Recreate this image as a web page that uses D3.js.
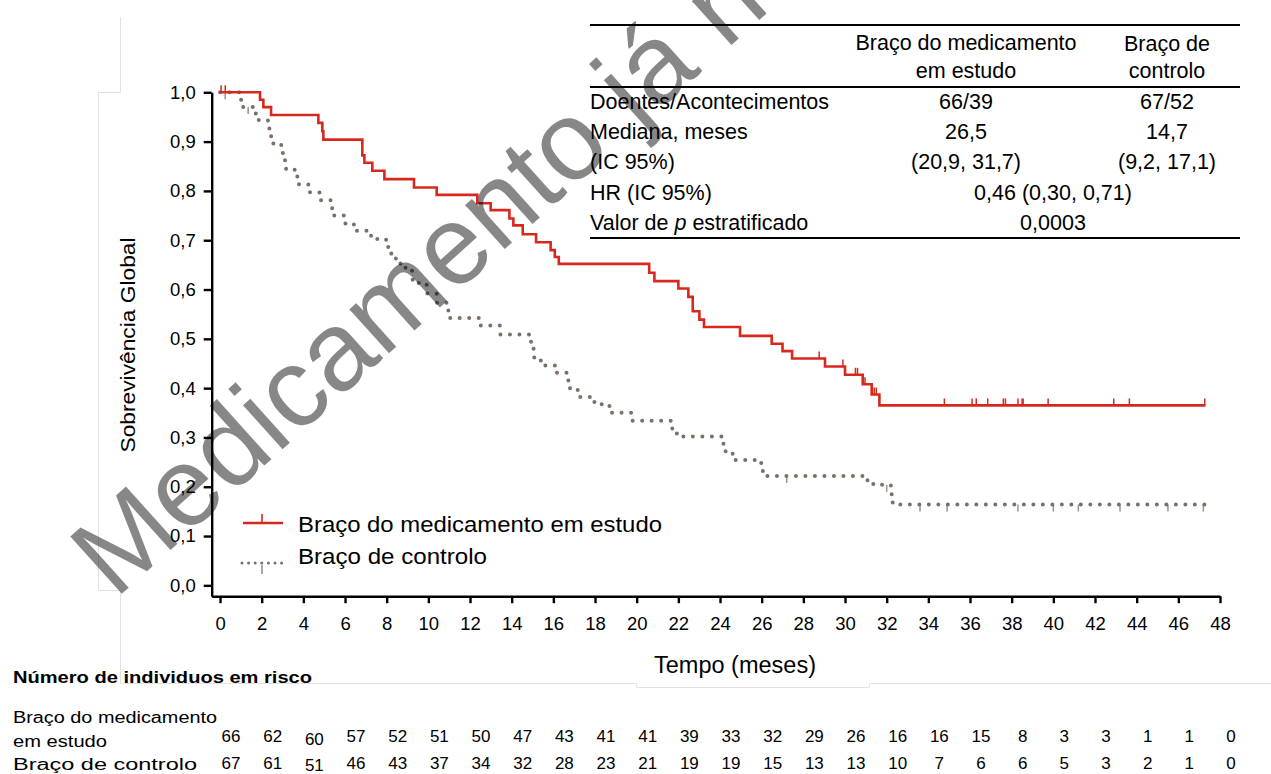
<!DOCTYPE html>
<html>
<head>
<meta charset="utf-8">
<script src="https://d3js.org/d3.v7.min.js"></script>
<style>
    body { margin: 0; background: #fff; }
    text { font-family: "Liberation Sans", Arial, sans-serif; fill: #000; }
</style>
</head>
<body>
<script>
    var W = 1271, H = 774;

    // braço do medicamento: tempo de cada degrau (meses) e sobrevivência depois dele
    var drugTimes = [0, 1.92, 2.08, 2.45, 4.72, 4.91, 4.96, 6.83, 6.93, 7.31, 7.89, 9.31, 10.40, 12.35, 12.99,
        13.89, 14.08, 14.53, 15.17, 15.87, 16.07, 16.26, 20.60, 20.85, 22.00, 22.48, 22.69, 23.01, 23.23,
        24.96, 26.48, 27.00, 27.46, 29.04, 30.00, 30.85, 31.28, 31.65];
    var drugSurv = [1.000, 0.985, 0.970, 0.954, 0.938, 0.921, 0.904, 0.872, 0.857, 0.841, 0.824, 0.807, 0.792,
        0.775, 0.761, 0.744, 0.730, 0.712, 0.696, 0.680, 0.666, 0.652, 0.634, 0.617, 0.602, 0.585, 0.556,
        0.539, 0.524, 0.506, 0.490, 0.475, 0.460, 0.444, 0.427, 0.408, 0.387, 0.365];
    var drugCensored = [0.05, 0.25, 28.76, 29.9, 30.5, 30.6, 30.96, 31.4, 31.5, 34.77, 36.1, 36.3, 36.85,
        37.6, 37.7, 38.3, 38.5, 38.55, 39.75, 42.9, 43.65, 47.27];
    var drugEnd = 47.3;

    // braço de controlo
    var ctrlTimes = [0, 0.95, 1.10, 1.60, 1.86, 2.37, 2.45, 2.56, 2.99, 3.12, 3.17, 3.71, 3.79, 4.32, 4.85,
        5.36, 5.47, 6.02, 6.56, 7.25, 7.55, 8.05, 8.19, 8.40, 8.64, 8.83, 9.07, 9.23, 9.52, 9.92, 10.40,
        10.96, 11.04, 12.48, 13.44, 14.88, 15.04, 15.05, 15.36, 15.60, 16.16, 16.72, 16.80, 16.96, 17.28,
        17.92, 18.32, 18.80, 19.80, 21.71, 21.92, 22.20, 24.13, 24.24, 24.48, 24.72, 25.92, 26.02, 26.24,
        31.04, 31.36, 32.20, 32.29];
    var ctrlSurv = [1.000, 0.985, 0.970, 0.957, 0.943, 0.926, 0.911, 0.893, 0.877, 0.862, 0.843, 0.828,
        0.813, 0.797, 0.781, 0.765, 0.750, 0.732, 0.719, 0.709, 0.701, 0.686, 0.673, 0.663, 0.653, 0.644,
        0.638, 0.620, 0.613, 0.592, 0.573, 0.556, 0.542, 0.527, 0.509, 0.494, 0.480, 0.462, 0.456, 0.446,
        0.431, 0.412, 0.399, 0.396, 0.382, 0.372, 0.364, 0.350, 0.334, 0.318, 0.308, 0.302, 0.287, 0.272,
        0.267, 0.254, 0.248, 0.232, 0.222, 0.213, 0.204, 0.185, 0.164];
    var ctrlCensored = [0.25, 1.35, 27.2, 32.0, 33.6, 34.9, 38.3, 40.0, 41.2, 43.2, 45.5, 47.2];
    var ctrlEnd = 47.3;

    var xTicks = d3.range(0, 49, 2);
    var yTicks = [0, 0.1, 0.2, 0.3, 0.4, 0.5, 0.6, 0.7, 0.8, 0.9, 1.0];

    var riskDrug = [66, 62, 60, 57, 52, 51, 50, 47, 43, 41, 41, 39, 33, 32, 29, 26, 16, 16, 15, 8, 3, 3, 1, 1, 0];
    var riskCtrl = [67, 61, 51, 46, 43, 37, 34, 32, 28, 23, 21, 19, 19, 15, 13, 13, 10, 7, 6, 6, 5, 3, 2, 1, 0];

    var seriesNames = ["Braço do medicamento em estudo", "Braço de controlo"];
    var tableRows = ["Doentes/Acontecimentos", "Mediana, meses", "(IC 95%)", "HR (IC 95%)"];
    var drugStats = ["66/39", "26,5", "(20,9, 31,7)"];
    var ctrlStats = ["67/52", "14,7", "(9,2, 17,1)"];
    var hrValue = "0,46 (0,30, 0,71)";
    var pValue = "0,0003";

    var red = "#d8281e", grey = "#7a7068";

    var svg = d3.select("body").append("svg").attr("width", W).attr("height", H);

    var x = d3.scaleLinear().domain([-0.4, 48]).range([211.7, 1220]);
    var y = d3.scaleLinear().domain([-0.022, 1]).range([596.2, 92.3]);
    var fmt = function (d) { return d.toFixed(1).replace(".", ","); };

    // faint frame left over from the slide
    svg.append("path")
        .attr("d", "M120.5,17V92.5H98.5V590.5H120.5V683.5H636.5V687.5H869.5V683.5H1271")
        .attr("fill", "none").attr("stroke", "#e2e2e2").attr("stroke-width", 1);

    // axes
    var xAxis = svg.append("g").attr("transform", "translate(0," + y(-0.022) + ")")
        .call(d3.axisBottom(x).tickValues(xTicks).tickSize(7).tickSizeOuter(0).tickPadding(14));
    var yAxis = svg.append("g").attr("transform", "translate(" + x(-0.4) + ",0)")
        .call(d3.axisLeft(y).tickValues(yTicks).tickFormat(fmt).tickSize(8).tickSizeOuter(0).tickPadding(8));
    [xAxis, yAxis].forEach(function (g) {
        g.selectAll("path, line").attr("stroke", "#000").attr("stroke-width", 2.4);
        g.selectAll("text").attr("font-size", 18.5).attr("fill", "#000")
            .style("font-family", "'Liberation Sans', Arial, sans-serif");
    });

    svg.append("text").attr("transform", "translate(135,345) rotate(-90)")
        .attr("text-anchor", "middle").attr("font-size", 21)
        .attr("textLength", 215).attr("lengthAdjust", "spacingAndGlyphs")
        .text("Sobrevivência Global");
    svg.append("text").attr("x", 735).attr("y", 673).attr("text-anchor", "middle")
        .attr("font-size", 23.5).text("Tempo (meses)");

    function stepData(times, surv, end) {
        var pts = times.map(function (t, i) { return [t, surv[i]]; });
        pts.push([end, surv[surv.length - 1]]);
        return pts;
    }
    function survAt(times, surv, t) {
        return surv[Math.max(0, d3.bisectRight(times, t) - 1)];
    }
    var stepLine = d3.line()
        .x(function (d) { return x(d[0]); })
        .y(function (d) { return y(d[1]); })
        .curve(d3.curveStepAfter);

    // controlo: dotted
    svg.append("g").selectAll("line").data(ctrlCensored).join("line")
        .attr("x1", function (d) { return x(d); }).attr("x2", function (d) { return x(d); })
        .attr("y1", function (d) { return y(survAt(ctrlTimes, ctrlSurv, d)); })
        .attr("y2", function (d) { return y(survAt(ctrlTimes, ctrlSurv, d)) + 7; })
        .attr("stroke", "#9c928a").attr("stroke-width", 1.5);
    svg.append("path").attr("d", stepLine(stepData(ctrlTimes, ctrlSurv, ctrlEnd)))
        .attr("fill", "none").attr("stroke", grey).attr("stroke-width", 4)
        .attr("stroke-linecap", "round").attr("stroke-dasharray", "0,9.5");

    // medicamento: solid red
    svg.append("path").attr("d", stepLine(stepData(drugTimes, drugSurv, drugEnd)))
        .attr("fill", "none").attr("stroke", red).attr("stroke-width", 2.6);
    svg.append("g").selectAll("line").data(drugCensored).join("line")
        .attr("x1", function (d) { return x(d); }).attr("x2", function (d) { return x(d); })
        .attr("y1", function (d) { return y(survAt(drugTimes, drugSurv, d)); })
        .attr("y2", function (d) { return y(survAt(drugTimes, drugSurv, d)) - 7; })
        .attr("stroke", red).attr("stroke-width", 1.5);

    // legend
    var lg = svg.append("g");
    lg.append("line").attr("x1", 243).attr("x2", 283).attr("y1", 523).attr("y2", 523)
        .attr("stroke", red).attr("stroke-width", 2.6);
    lg.append("line").attr("x1", 262).attr("x2", 262).attr("y1", 523).attr("y2", 514)
        .attr("stroke", red).attr("stroke-width", 1.6);
    lg.append("line").attr("x1", 242).attr("x2", 283).attr("y1", 563).attr("y2", 563)
        .attr("stroke", grey).attr("stroke-width", 3).attr("stroke-linecap", "round")
        .attr("stroke-dasharray", "0,6.6");
    lg.append("line").attr("x1", 262).attr("x2", 262).attr("y1", 565).attr("y2", 574)
        .attr("stroke", "#9c928a").attr("stroke-width", 1.6);
    lg.append("text").attr("x", 298).attr("y", 532).attr("font-size", 22)
        .attr("textLength", 364).attr("lengthAdjust", "spacingAndGlyphs").text(seriesNames[0]);
    lg.append("text").attr("x", 298).attr("y", 564).attr("font-size", 22)
        .attr("textLength", 189).attr("lengthAdjust", "spacingAndGlyphs").text(seriesNames[1]);

    // stats table
    var tb = svg.append("g").attr("font-size", 21.5);
    [25, 87, 238].forEach(function (ly) {
        tb.append("line").attr("x1", 590).attr("x2", 1240).attr("y1", ly).attr("y2", ly)
            .attr("stroke", "#000").attr("stroke-width", 2);
    });
    var c1 = 966, c2 = 1167, cMid = 1053;
    tb.append("text").attr("x", c1).attr("y", 50).attr("text-anchor", "middle").text("Braço do medicamento");
    tb.append("text").attr("x", c1).attr("y", 78).attr("text-anchor", "middle").text("em estudo");
    tb.append("text").attr("x", c2).attr("y", 51).attr("text-anchor", "middle").text("Braço de");
    tb.append("text").attr("x", c2).attr("y", 78).attr("text-anchor", "middle").text("controlo");
    tableRows.forEach(function (r, i) {
        tb.append("text").attr("x", 590).attr("y", 109 + i * 30.2).text(r);
    });
    var pRow = tb.append("text").attr("x", 590).attr("y", 230);
    pRow.append("tspan").text("Valor de ");
    pRow.append("tspan").attr("font-style", "italic").text("p");
    pRow.append("tspan").text(" estratificado");
    drugStats.forEach(function (v, i) {
        tb.append("text").attr("x", c1).attr("y", 109 + i * 30.2).attr("text-anchor", "middle").text(v);
    });
    ctrlStats.forEach(function (v, i) {
        tb.append("text").attr("x", c2).attr("y", 109 + i * 30.2).attr("text-anchor", "middle").text(v);
    });
    tb.append("text").attr("x", cMid).attr("y", 200).attr("text-anchor", "middle").text(hrValue);
    tb.append("text").attr("x", cMid).attr("y", 230).attr("text-anchor", "middle").text(pValue);

    // numbers at risk (third column sits a little lower in the original)
    var rk = svg.append("g");
    rk.append("text").attr("x", 13).attr("y", 683).attr("font-size", 16).attr("font-weight", "bold")
        .attr("textLength", 299).attr("lengthAdjust", "spacingAndGlyphs").text("Número de individuos em risco");
    rk.append("text").attr("x", 13).attr("y", 723).attr("font-size", 16)
        .attr("textLength", 204).attr("lengthAdjust", "spacingAndGlyphs").text("Braço do medicamento");
    rk.append("text").attr("x", 13).attr("y", 747).attr("font-size", 16)
        .attr("textLength", 94).attr("lengthAdjust", "spacingAndGlyphs").text("em estudo");
    rk.append("text").attr("x", 13).attr("y", 770).attr("font-size", 16)
        .attr("textLength", 184).attr("lengthAdjust", "spacingAndGlyphs").text("Braço de controlo");
    rk.selectAll(".rd").data(riskDrug).join("text").attr("class", "rd")
        .attr("x", function (d, i) { return x(xTicks[i]) + 11; })
        .attr("y", function (d, i) { return i === 2 ? 745 : 742; })
        .attr("text-anchor", "middle").attr("font-size", 17).text(function (d) { return d; });
    rk.selectAll(".rc").data(riskCtrl).join("text").attr("class", "rc")
        .attr("x", function (d, i) { return x(xTicks[i]) + 11; })
        .attr("y", function (d, i) { return i === 2 ? 771 : 769; })
        .attr("text-anchor", "middle").attr("font-size", 17).text(function (d) { return d; });

    // watermark
    svg.append("text").attr("transform", "translate(115,600) rotate(-42)")
        .attr("font-size", 112).style("fill", "#000").attr("fill-opacity", 0.47)
        .text("Medicamento já não autorizado");
</script>
</body>
</html>
